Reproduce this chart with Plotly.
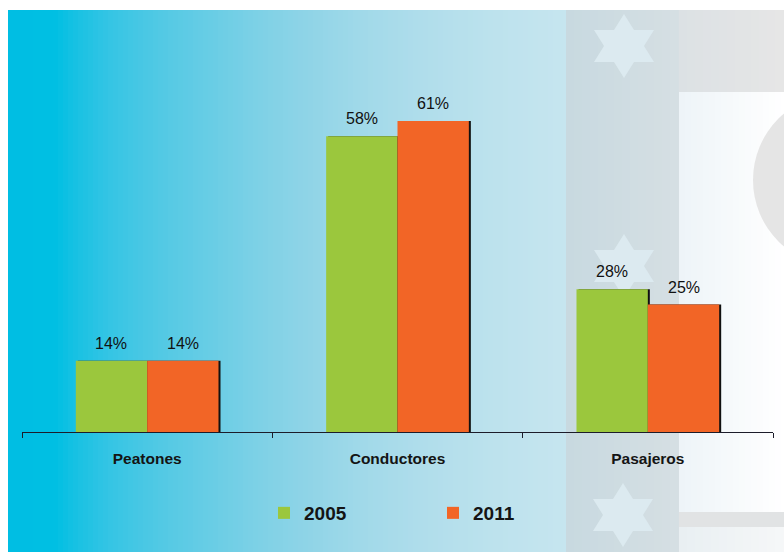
import plotly.graph_objects as go

# ---- data ----
categories = ["Peatones", "Conductores", "Pasajeros"]
years = ["2005", "2011"]
values_2005 = [14, 58, 28]
values_2011 = [14, 61, 25]

GREEN = "#9BC73D"
ORANGE = "#F26526"
FONT = "Liberation Sans, Arial, sans-serif"

W, H = 784, 552
ML, MR, MT, MB = 22, 11, 40, 120
PW, PH = W - ML - MR, H - MT - MB
Y_MAX = 76.9
BAR_W = 0.285
SHADOW_DX = 0.008


def px2x(px):
    return (px - ML) / PW


def py2y(py):
    return (H - MB - py) / PH


def hex2rgb(h):
    h = h.lstrip("#")
    return tuple(int(h[i:i + 2], 16) for i in (0, 2, 4))


def lerp(stops, x):
    for (xa, ca), (xb, cb) in zip(stops, stops[1:]):
        if xa <= x <= xb:
            t = (x - xa) / (xb - xa) if xb > xa else 0
            a, b = hex2rgb(ca), hex2rgb(cb)
            return "rgb(%d,%d,%d)" % tuple(round(a[i] + (b[i] - a[i]) * t) for i in range(3))
    return stops[-1][1]


shapes = []


def rect(x0, y0, x1, y1, color):
    shapes.append(dict(type="rect", xref="paper", yref="paper", layer="below",
                       x0=px2x(x0), x1=px2x(x1), y0=py2y(y1), y1=py2y(y0),
                       fillcolor=color, line=dict(width=0)))


def hgradient(x0, x1, y0, y1, stops, step=5):
    x = x0
    while x < x1:
        xe = min(x + step, x1)
        rect(x, y0, xe + 1, y1, lerp(stops, (x + xe) / 2))
        x = xe


# left band: cyan fading to pale blue
left_stops = [(8, "#00BEE3"), (55, "#00BFE3"), (75, "#17C1E3"), (110, "#35C5E4"),
              (160, "#52C9E4"), (210, "#68CDE5"), (260, "#7ED1E6"), (310, "#90D4E7"),
              (360, "#A0D9E9"), (420, "#AFDDEB"), (490, "#BCE2ED"), (566, "#C6E5EF")]
hgradient(8, 566, 10, 552, left_stops)
# grey-blue middle band
hgradient(566, 679, 10, 552, [(566, "#C8D9E0"), (679, "#D6DFE3")], step=8)
# right side: top strip, light panel, grey stripe, bottom
hgradient(679, 784, 10, 92, [(679, "#DCE1E4"), (784, "#E6E6E6")], step=8)
hgradient(679, 784, 92, 512, [(679, "#EDF4F8"), (784, "#FFFFFF")], step=6)
rect(679, 512, 784, 527, "#E1E3E4")
hgradient(679, 784, 527, 552, [(679, "#E9EFF2"), (784, "#F6F7F8")], step=8)

# grey disc inside the panel
shapes.append(dict(type="circle", xref="paper", yref="paper", layer="below",
                   x0=px2x(753), x1=px2x(927), y0=py2y(267), y1=py2y(93),
                   fillcolor="#E5E5E5", line=dict(width=0)))


def star(cx, cy, h=64, w=60, color="#DCEAF0"):
    pts_up = [(cx, cy - h / 2), (cx - w / 2, cy + h / 4), (cx + w / 2, cy + h / 4)]
    pts_dn = [(cx, cy + h / 2), (cx - w / 2, cy - h / 4), (cx + w / 2, cy - h / 4)]
    for pts in (pts_up, pts_dn):
        path = "M" + " L".join("%f,%f" % (px2x(a), py2y(b)) for a, b in pts) + " Z"
        shapes.append(dict(type="path", xref="paper", yref="paper", layer="below",
                           path=path, fillcolor=color, line=dict(width=0)))


star(624, 46)
star(624, 266)
star(623, 515)

fig = go.Figure()

# drop shadows behind the bars
for vals, off in ((values_2005, -BAR_W), (values_2011, 0)):
    fig.add_trace(go.Bar(x=categories, y=vals, offset=off + SHADOW_DX, width=BAR_W,
                         marker=dict(color="#111111", line=dict(width=0)),
                         showlegend=False, hoverinfo="skip"))

for name, vals, color, off in ((years[0], values_2005, GREEN, -BAR_W),
                               (years[1], values_2011, ORANGE, 0)):
    fig.add_trace(go.Bar(x=categories, y=vals, name=name, offset=off, width=BAR_W,
                         marker=dict(color=color, line=dict(width=0))))

annotations = []
for vals, off in ((values_2005, -BAR_W / 2), (values_2011, BAR_W / 2)):
    for i, v in enumerate(vals):
        annotations.append(dict(x=i + off, y=v, xref="x", yref="y", text=f"{v}%",
                                showarrow=False, yanchor="bottom", yshift=7,
                                font=dict(family=FONT, size=16, color="#111111")))

fig.update_layout(
    width=W, height=H, autosize=False,
    margin=dict(l=ML, r=MR, t=MT, b=MB),
    paper_bgcolor="white", plot_bgcolor="rgba(0,0,0,0)",
    barmode="overlay",
    shapes=shapes, annotations=annotations,
    font=dict(family=FONT, color="#1A1A1A"),
    xaxis=dict(type="category", showline=True, linecolor="#1C1C2A", linewidth=1,
               ticks="outside", tickson="boundaries", ticklen=5, tickcolor="#1C1C2A",
               showgrid=False, zeroline=False, ticklabelstandoff=12,
               tickfont=dict(family=FONT, size=15.5, color="#141414", weight="bold")),
    yaxis=dict(visible=False, range=[0, Y_MAX]),
    legend=dict(orientation="h", x=px2x(264), xanchor="left", y=py2y(513), yanchor="middle",
                bgcolor="rgba(0,0,0,0)", entrywidth=124, entrywidthmode="pixels",
                font=dict(family=FONT, size=19, color="#141414", weight="bold")),
)

fig.write_html("out.html")
